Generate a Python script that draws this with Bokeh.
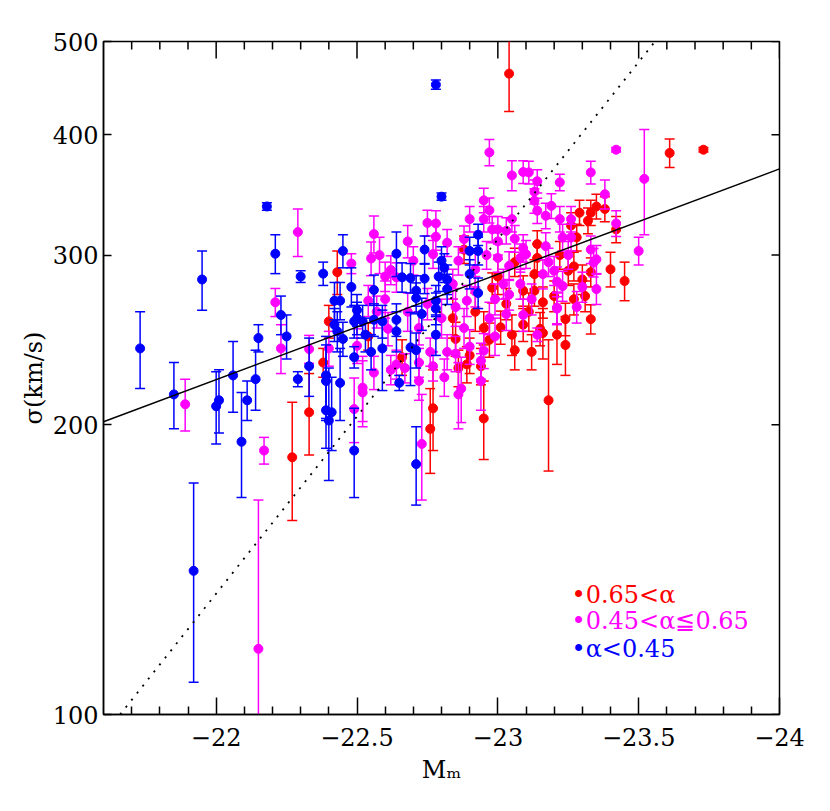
import numpy as np
from bokeh.plotting import figure
from bokeh.models import Range1d, FixedTicker, Label
from bokeh.embed import file_html
from bokeh.resources import INLINE

# ---------------- data ----------------
red_mag = [-22.27, -22.43, -22.40, -22.38, -22.33, -22.88, -22.98, -23.04, -23.61, -23.73,
           -23.45, -23.40, -23.42, -23.38, -23.35, -23.33, -23.32, -23.29, -23.26, -23.28,
           -23.14, -23.27, -23.25, -23.14, -23.13, -23.33, -23.30, -23.31, -23.33, -23.27,
           -23.16, -23.13, -23.09, -23.03, -23.01, -23.09, -23.15, -23.24, -23.18, -23.24,
           -23.21, -23.06, -23.16, -22.77, -22.76, -22.86, -22.90, -22.89, -22.94, -22.95,
           -22.95, -22.85, -23.00, -23.06, -23.11, -23.20, -23.22, -22.92, -22.97, -23.05,
           -23.12, -22.84, -22.54, -22.66]
red_sigma = [185, 288, 256, 232, 206, 304, 277.5, 463, 383, 386,
             282, 290, 319, 335, 337, 332, 325.7, 332, 322, 313,
             308, 292, 289, 298, 286.7, 288, 283, 272, 257.4, 270,
             268, 275.5, 275.5, 267, 252.4, 254, 251.5, 257.4, 212, 242,
             248, 239, 249, 208, 198, 229, 236, 231, 230, 203,
             252, 245.5, 285, 295, 262, 272, 300, 262, 245, 248,
             238, 258, 247, 235]
red_err = [26, 15, 10, 8, 20, 10, 10, 40, 13, 2,
           13, 12, 10, 10, 10, 10, 10, 10, 10, 10,
           10, 10, 10, 10, 10, 10, 10, 10, 9, 10,
           10, 10, 10, 10, 10, 10, 10, 10, 33, 17,
           17, 11, 15, 20, 20, 10, 10, 10, 10, 19,
           10, 10, 12, 10, 12, 10, 10, 12, 10, 12,
           10, 12, 8, 10]

mag_mag = [-22.29, -22.21, -22.23, -21.89, -22.17, -22.15, -22.48, -22.56, -22.58, -22.55,
           -22.62, -22.70, -22.54, -22.61, -22.33, -22.56, -22.52, -22.52, -22.49, -22.97,
           -22.95, -22.97, -22.90, -22.95, -22.75, -22.78, -22.78, -22.82, -22.98, -22.64,
           -22.75, -22.89, -23.42, -23.52, -23.50, -23.42, -23.38, -23.33, -23.22, -23.11,
           -23.09, -23.05, -23.14, -23.13, -23.13, -23.19, -23.14, -23.17, -23.22, -23.26,
           -23.00, -23.05, -23.03, -23.26, -23.23, -23.33, -23.17, -23.09, -23.00, -23.35,
           -23.34, -23.20, -23.16, -23.10, -23.08, -23.04, -23.00, -23.30, -23.35, -23.21,
           -23.23, -23.21, -23.08, -23.04, -22.99, -22.99, -23.14, -23.21, -23.03, -23.09,
           -22.62, -22.64, -22.67, -22.72, -22.72, -22.73, -22.77, -22.76, -22.82, -22.81,
           -22.85, -22.87, -22.86, -22.94, -22.94, -22.90, -22.95, -22.60, -22.68, -22.72,
           -22.80, -22.85, -22.88, -22.84, -22.92, -22.96, -22.86, -22.68, -22.60, -22.57,
           -22.92, -22.97, -23.02, -23.12, -23.18, -23.25, -23.28, -23.06, -22.40, -22.50,
           -22.77, -22.88]
mag_sigma = [317, 268, 240, 210, 188, 117, 294, 315.5, 300, 297.6,
             289.5, 296, 269, 251.5, 239.6, 226.5, 216, 218.5, 207.6, 383.5,
             342, 334, 327, 327, 324, 323.6, 313.5, 309, 319, 284.5,
             267, 269, 386, 360, 303, 323.6, 347, 365.6, 357, 365.6,
             366, 363, 358, 349, 341.6, 337.5, 333.6, 329.6, 327, 327,
             319, 327, 318, 313, 313, 304, 306.5, 305, 310, 297,
             294.7, 289, 286.7, 300.6, 298, 292.4, 298, 278, 276.6, 281.6,
             278.6, 264.6, 280, 273, 270, 247, 248, 264, 260.5, 260,
             228, 231, 229, 232, 222, 191, 230, 238, 238, 224,
             237, 218, 215, 233, 222, 241, 238.7, 270, 262, 252,
             258, 265, 252, 280, 290, 300, 296, 310, 285, 262,
             275, 258, 280, 270, 295, 300, 265, 312, 240, 241.5,
             300.6, 311.7]
mag_err = [18, 9, 14, 13, 6, 50, 7, 14, 13, 12,
           10, 10, 10, 10, 8, 9, 17, 17, 16, 12,
           10, 10, 10, 10, 10, 10, 10, 10, 10, 10,
           10, 10, 2, 45, 10, 10, 12, 10, 7, 10,
           10, 13, 10, 10, 10, 10, 10, 10, 10, 10,
           10, 10, 10, 10, 10, 10, 10, 10, 10, 10,
           10, 10, 10, 10, 10, 10, 10, 10, 10, 10,
           10, 10, 10, 10, 10, 11, 4, 10, 10, 10,
           8, 8, 8, 8, 10, 24, 8, 8, 10, 10,
           10, 17, 17, 10, 15, 10, 10, 12, 12, 10,
           12, 12, 12, 10, 12, 10, 10, 12, 10, 10,
           10, 10, 10, 10, 10, 10, 10, 10, 10, 10,
           10, 10]

blue_mag = [-22.18, -22.21, -22.30, -21.95, -22.23, -22.15, -22.25, -21.73, -22.29, -21.85,
            -22.06, -22.14, -22.01, -22.00, -22.11, -22.09, -21.92, -22.38, -22.45, -22.64,
            -22.66, -22.69, -22.71, -22.48, -22.42, -22.44, -22.50, -22.56, -22.42, -22.43,
            -22.45, -22.50, -22.52, -22.56, -22.59, -22.53, -22.64, -22.64, -22.59, -22.55,
            -22.49, -22.33, -22.39, -22.39, -22.44, -22.39, -22.41, -22.40, -22.49, -22.71,
            -22.80, -22.78, -22.74, -22.93, -22.90, -22.93, -22.74, -22.79, -22.81, -22.80,
            -22.82, -22.82, -22.71, -22.78, -22.73, -22.78, -22.49, -22.93, -22.90, -22.65,
            -22.69, -22.71, -22.78]
blue_sigma = [337, 301, 285, 283, 260, 246, 247, 240, 223, 215,
              225, 223, 212, 209, 212, 192, 141, 287, 303, 301,
              284.5, 284, 275.5, 278, 269, 269, 263, 276, 254, 250,
              245.5, 258, 256, 257, 256, 248, 257, 250, 240, 238,
              235, 230, 225, 222, 221, 207, 206, 202, 188, 182,
              345, 451, 304, 315, 303, 303, 283.6, 285, 291, 296,
              283, 276.6, 270.7, 269, 260.6, 264, 256, 274, 286.7, 221,
              240.6, 239, 248]
blue_err = [3, 14, 4, 20, 12, 8, 13, 22, 4, 17,
            19, 16, 16, 18, 10, 24, 33, 8, 12, 16,
            10, 10, 10, 13, 12, 12, 10, 10, 10, 12,
            10, 10, 10, 10, 10, 10, 10, 12, 23, 10,
            6, 16, 22, 20, 19, 18, 18, 27, 20, 17,
            3, 5, 10, 8, 10, 10, 10, 10, 10, 10,
            10, 10, 10, 10, 10, 10, 10, 10, 10, 4,
            21, 10, 12]

fit_mag = [-21.6, -24.0]
fit_sigma = [201.4, 368.7]
dot_mag = [-21.659, -23.558]
dot_sigma = [100.0, 500.0]

x_major = [-22.0, -22.5, -23.0, -23.5, -24.0]
x_labels = ["\u221222", "\u221222.5", "\u221223", "\u221223.5", "\u221224"]
x_minor = [-21.7, -21.8, -21.9, -22.1, -22.2, -22.3, -22.4, -22.6, -22.7, -22.8, -22.9,
           -23.1, -23.2, -23.3, -23.4, -23.6, -23.7, -23.8, -23.9]
y_major = [100, 200, 300, 400, 500]
y_labels = ["100", "200", "300", "400", "500"]

legend_texts = ["\u20220.65<\u03b1", "\u20220.45<\u03b1\u22660.65", "\u2022\u03b1<0.45"]
COL_RED, COL_MAG, COL_BLUE = "#ff0000", "#ff00ff", "#0000ff"
FONT = "DejaVu Serif"
FS = "24px"

x_lo, x_hi = -21.6, -24.0
y_lo, y_hi = y_major[0], y_major[-1]

# ---------------- figure ----------------
p = figure(x_range=Range1d(x_lo, x_hi), y_range=Range1d(y_lo, y_hi), y_axis_type="log",
           frame_width=676, frame_height=673,
           min_border_left=103, min_border_right=40, min_border_top=41, min_border_bottom=85,
           output_backend="svg", toolbar_location=None)
p.xgrid.visible = False
p.ygrid.visible = False
p.outline_line_color = "black"
p.outline_line_width = 1.5
p.background_fill_color = "white"
p.border_fill_color = "white"

xa = p.xaxis[0]
xa.ticker = FixedTicker(ticks=x_major, minor_ticks=x_minor)
xa.major_label_overrides = dict(zip(x_major, x_labels))
xa.major_tick_in = 17
xa.major_tick_out = 0
xa.minor_tick_in = 8
xa.minor_tick_out = 0
xa.major_label_standoff = 13
xa.major_label_text_font = FONT
xa.major_label_text_font_size = FS
xa.major_label_text_color = "black"
xa.axis_label = "M\u2098"
xa.axis_label_text_font = FONT
xa.axis_label_text_font_size = FS
xa.axis_label_text_font_style = "normal"
xa.axis_label_text_color = "black"
xa.axis_label_standoff = 7
xa.axis_line_width = 1.5
xa.major_tick_line_width = 1.5
xa.minor_tick_line_width = 1.5

ya = p.yaxis[0]
ya.ticker = FixedTicker(ticks=y_major, minor_ticks=[])
ya.major_label_overrides = dict(zip(y_major, y_labels))
ya.major_tick_in = 8
ya.major_tick_out = 0
ya.minor_tick_in = 0
ya.minor_tick_out = 0
ya.major_label_standoff = 5
ya.major_label_text_font = FONT
ya.major_label_text_font_size = FS
ya.major_label_text_color = "black"
ya.axis_label = "\u03c3(km/s)"
ya.axis_label_text_font = FONT
ya.axis_label_text_font_size = FS
ya.axis_label_text_font_style = "normal"
ya.axis_label_text_color = "black"
ya.axis_label_standoff = 2
ya.axis_line_width = 1.5
ya.major_tick_line_width = 1.5

# mirrored tick marks on top and right edges (half of each dash is clipped by the frame)
n_top_major = len(x_major)
n_top_minor = len(x_minor)
p.scatter(x=x_major, y=[y_hi] * n_top_major, marker="dash", angle=np.pi / 2, size=34,
          line_color="black", line_width=1.5)
p.scatter(x=x_minor, y=[y_hi] * n_top_minor, marker="dash", angle=np.pi / 2, size=16,
          line_color="black", line_width=1.5)
p.scatter(x=[x_hi] * len(y_major), y=y_major, marker="dash", size=16,
          line_color="black", line_width=1.5)


def draw_group(mag, sig, err, color):
    mag = np.asarray(mag, dtype=float)
    sig = np.asarray(sig, dtype=float)
    err = np.asarray(err, dtype=float)
    lo = sig - err
    hi = sig + err
    p.segment(x0=mag, y0=lo, x1=mag, y1=hi, line_color=color, line_width=1.5)
    p.scatter(x=mag, y=lo, marker="dash", size=10, line_color=color, line_width=1.5)
    p.scatter(x=mag, y=hi, marker="dash", size=10, line_color=color, line_width=1.5)
    p.scatter(x=mag, y=sig, marker="circle", size=9, fill_color=color, line_color=color)


draw_group(red_mag, red_sigma, red_err, COL_RED)
draw_group(mag_mag, mag_sigma, mag_err, COL_MAG)
draw_group(blue_mag, blue_sigma, blue_err, COL_BLUE)

p.line(fit_mag, fit_sigma, line_color="black", line_width=1.5)
p.line(dot_mag, dot_sigma, line_color="black", line_width=1.8, line_dash="2 7")

legend_colors = [COL_RED, COL_MAG, COL_BLUE]
legend_y = [120, 94, 66]
for t, c, yy in zip(legend_texts, legend_colors, legend_y):
    p.add_layout(Label(x=468, y=yy, x_units="screen", y_units="screen", text=t,
                       text_font=FONT, text_font_size=FS, text_color=c,
                       text_baseline="middle", text_align="left"))

open("out.html", "w").write(file_html(p, INLINE))
